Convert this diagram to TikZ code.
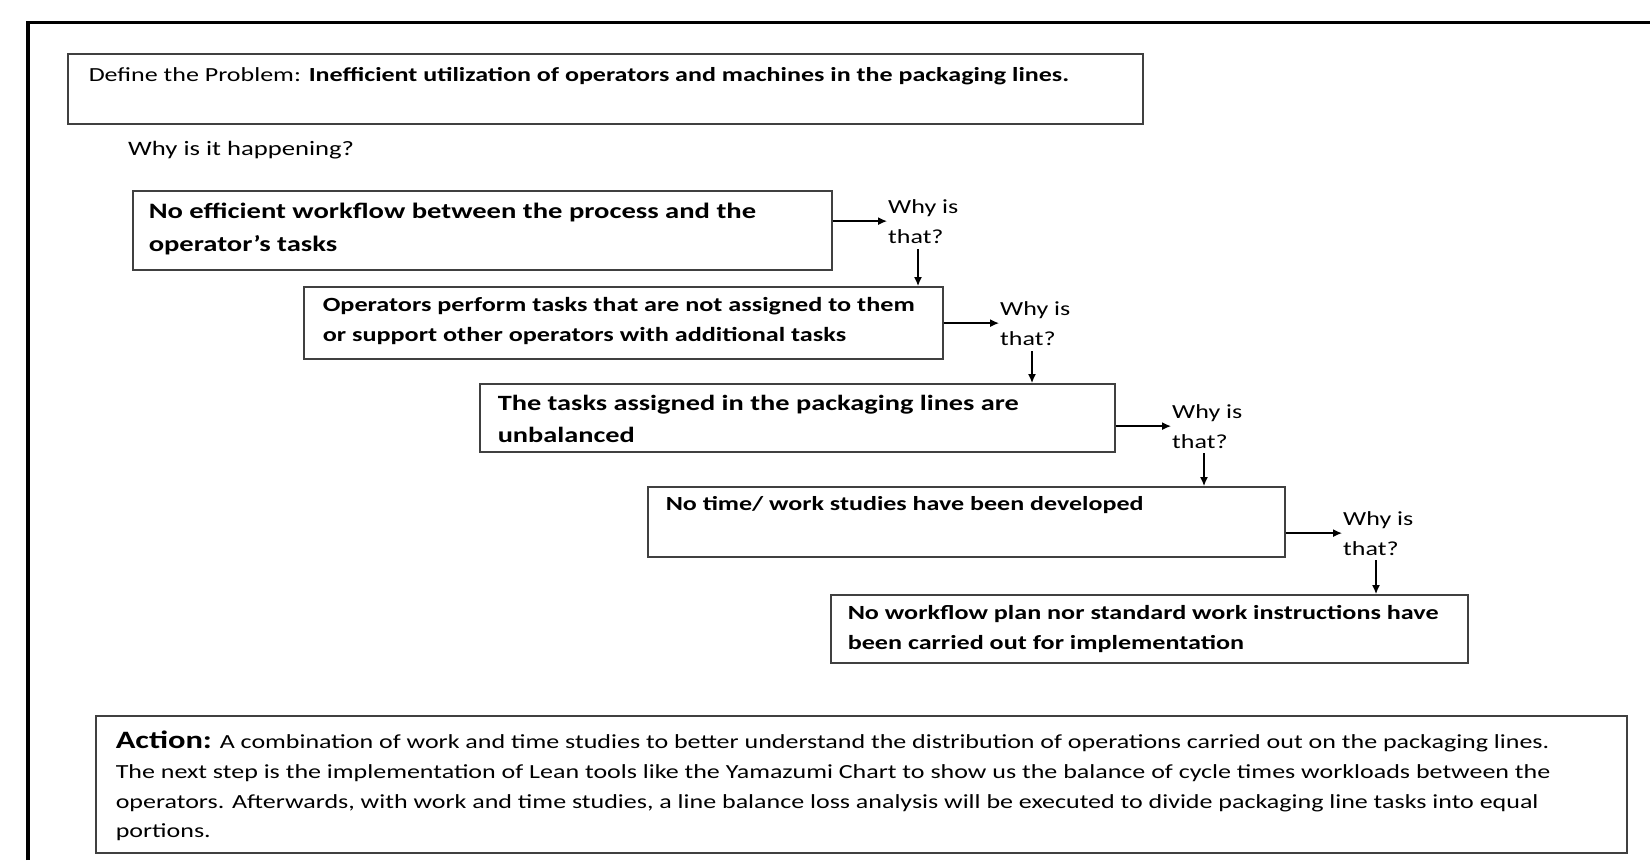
\documentclass[tikz,border=0pt]{standalone}
\usepackage{fontspec}
\setmainfont{Carlito}[FakeStretch=1.3]
\usetikzlibrary{arrows.meta}
% #1 width, #2 height, #3 first baseline from top, #4 line skip, #5 lines
\newcommand\boxtext[5]{\parbox[c][#2][t]{#1}{\baselineskip=#4\relax
  \setbox\strutbox\hbox{\vrule height .7\baselineskip depth .3\baselineskip width 0pt}%
  \vspace*{\dimexpr#3-\ht\strutbox\relax}%
  \begin{tabular}[t]{@{}l@{}}#5\end{tabular}}}
\tikzset{
  framebox/.style={draw=black!75, line width=1.5pt, anchor=north west, inner ysep=0pt},
  causebox/.style={framebox, font=\bfseries\fontsize{#1}{31}\selectfont},
  whytext/.style={anchor=base west, inner sep=0pt, font=\fontsize{20}{30}\selectfont},
  arr/.style={line width=1.3pt, -{Latex[length=9pt,width=8pt]}}
}
\begin{document}
\begin{tikzpicture}[x=1pt,y=-1pt]
\useasboundingbox (0,0) rectangle (1650,860);
% outer frame
\draw[line width=3.3pt] (28,860) -- (28,22.5) -- (1650,22.5);
% problem definition
\node[framebox, inner xsep=21pt, font=\fontsize{20}{28}\selectfont] (def) at (67,53)
  {\boxtext{1033pt}{70pt}{28pt}{28pt}{Define the Problem: \textbf{Inefficient utilization of operators and machines in the packaging lines.}}};
\node[whytext, font=\fontsize{20.5}{30}\selectfont] (why0) at (128,155) {Why is it happening?};
% cause boxes
\node[causebox=22, inner xsep=16pt] (b1) at (132,190)
  {\boxtext{667pt}{79pt}{28pt}{33pt}{No efficient workflow between the process and the\\operator’s tasks}};
\node[causebox=20.15, inner xsep=19pt] (b2) at (303,286)
  {\boxtext{601pt}{72pt}{25pt}{30pt}{Operators perform tasks that are not assigned to them\\or support other operators with additional tasks}};
\node[causebox=21.8, inner xsep=18pt] (b3) at (479,383)
  {\boxtext{599pt}{68pt}{27pt}{32pt}{The tasks assigned in the packaging lines are\\unbalanced}};
\node[causebox=20, inner xsep=18pt] (b4) at (647,486)
  {\boxtext{601pt}{70pt}{24pt}{30pt}{No time/ work studies have been developed}};
\node[causebox=20.1, inner xsep=17pt] (b5) at (830,594)
  {\boxtext{603pt}{68pt}{25pt}{30pt}{No workflow plan nor standard work instructions have\\been carried out for implementation}};
% why labels
\node[whytext] (w1) at (888,213) {\parbox[t]{80pt}{Why is\\that?}};
\node[whytext] (w2) at (1000,315) {\parbox[t]{80pt}{Why is\\that?}};
\node[whytext] (w3) at (1172,418) {\parbox[t]{80pt}{Why is\\that?}};
\node[whytext] (w4) at (1343,525) {\parbox[t]{80pt}{Why is\\that?}};
% arrow starts below labels
\coordinate (d1) at (918,249);
\coordinate (d2) at (1032,351);
\coordinate (d3) at (1204,453);
\coordinate (d4) at (1376,560);
% connectors
\draw[arr] (b1.east |- w1.west) -- ([xshift=-1pt]w1.west);
\draw[arr] (d1) -- (d1 |- b2.north);
\draw[arr] (b2.east |- w2.west) -- ([xshift=-1pt]w2.west);
\draw[arr] (d2) -- (d2 |- b3.north);
\draw[arr] (b3.east |- w3.west) -- ([xshift=-1pt]w3.west);
\draw[arr] (d3) -- (d3 |- b4.north);
\draw[arr] (b4.east |- w4.west) -- ([xshift=-1pt]w4.west);
\draw[arr] (d4) -- (d4 |- b5.north);
% action box
\node[framebox, inner xsep=20pt, font=\fontsize{20}{29.7}\selectfont] (act) at (95,715)
  {\boxtext{1491pt}{137pt}{33pt}{29.7pt}{{\fontsize{25}{29.7}\selectfont\bfseries Action:} A combination of work and time studies to better understand the distribution of operations carried out on the packaging lines.\\The next step is the implementation of Lean tools like the Yamazumi Chart to show us the balance of cycle times workloads between the\\operators. Afterwards, with work and time studies, a line balance loss analysis will be executed to divide packaging line tasks into equal\\portions.}};
\end{tikzpicture}
\end{document}
